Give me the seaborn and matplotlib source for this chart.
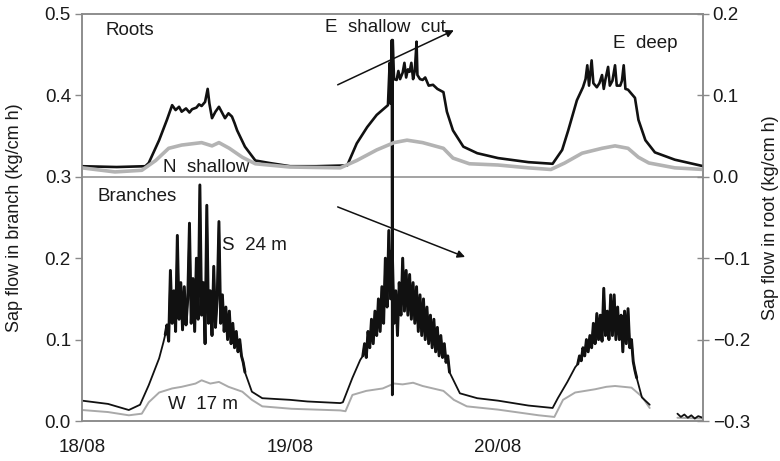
import numpy as np
import pandas as pd
import matplotlib
matplotlib.use("Agg")
import matplotlib.pyplot as plt
import seaborn as sns

# ---------------- data (x = hours since 18/08 00:00) ----------------
DATE_LABELS = ["18/08", "19/08", "20/08"]
DATE_HOURS = [0, 24, 48]
BRANCH_TICKS = [0.0, 0.1, 0.2, 0.3, 0.4, 0.5]
ROOT_TICKS = [-0.3, -0.2, -0.1, 0.0, 0.1, 0.2]
BURST_STEP = 0.2  # logging interval of the dense daytime records (h)

# Branch S 24 m (black) - smooth parts
S24_HOURS = [0, 3, 5.4, 6.7, 7.7, 8.9, 9.4,
             19.6, 20.8, 24, 26, 29.8, 30.1, 31.2, 32.1,
             43.6, 45.6, 48, 51.5, 54.3, 54.9, 56.0, 56.9,
             64.6, 65.5]
S24_VALUES = [0.025, 0.021, 0.0135, 0.02, 0.044, 0.077, 0.097,
              0.036, 0.028, 0.026, 0.024, 0.022, 0.023, 0.053, 0.075,
              0.034, 0.028, 0.025, 0.019, 0.016, 0.028, 0.048, 0.066,
              0.029, 0.02]
# Branch S 24 m - dense daytime records
S24_BURST1_START = 9.6
S24_BURST1 = [0.106, 0.118, 0.098, 0.185, 0.12, 0.16, 0.11, 0.228, 0.125, 0.17,
              0.112, 0.165, 0.118, 0.15, 0.243, 0.12, 0.175, 0.11, 0.2, 0.125,
              0.29, 0.13, 0.17, 0.095, 0.265, 0.12, 0.16, 0.105, 0.19, 0.115,
              0.15, 0.245, 0.12, 0.155, 0.11, 0.14, 0.1, 0.135, 0.095, 0.12,
              0.09, 0.11, 0.085, 0.1, 0.08, 0.072, 0.06]
S24_BURST2_START = 32.4
S24_BURST2 = [0.08, 0.095, 0.078, 0.11, 0.09, 0.125, 0.095, 0.135, 0.105, 0.15,
              0.11, 0.165, 0.12, 0.2, 0.14, 0.234, 0.15, 0.21, 0.12, 0.16,
              0.105, 0.17, 0.13, 0.2, 0.135, 0.185, 0.13, 0.18, 0.125, 0.17,
              0.12, 0.165, 0.11, 0.155, 0.105, 0.15, 0.1, 0.14, 0.095, 0.13,
              0.09, 0.125, 0.085, 0.115, 0.08, 0.105, 0.078, 0.095, 0.072, 0.08,
              0.06]
S24_BURST3_START = 57.2
S24_BURST3 = [0.07, 0.08, 0.074, 0.09, 0.08, 0.1, 0.085, 0.105, 0.09, 0.12,
              0.095, 0.132, 0.1, 0.13, 0.098, 0.163, 0.105, 0.135, 0.1, 0.155,
              0.105, 0.155, 0.1, 0.14, 0.1, 0.13, 0.085, 0.135, 0.095, 0.138,
              0.09, 0.1, 0.073, 0.062, 0.053]
S24_TAIL_HOURS = [68.7, 69.1, 69.5, 69.9, 70.3, 70.7, 71.1, 71.6]
S24_TAIL_VALUES = [0.009, 0.005, 0.008, 0.004, 0.007, 0.003, 0.006, 0.004]

# Branch W 17 m (grey)
W17_HOURS = [0, 3, 5.4, 6.9, 7.7, 8.9, 10.4, 11.5, 12.3, 13.1, 13.8, 14.8, 15.8,
             16.9, 18.5, 19.6, 20.8, 24.2, 29.8, 30.4, 31.2, 32.8, 34.7, 36.0,
             37.0, 38.2, 39.3, 41.7, 42.9, 44.4, 48, 52.7, 54.5, 55.5, 56.9,
             59.2, 60.5, 61.5, 63.4, 64.6, 65.5]
W17_VALUES = [0.0135, 0.011, 0.007, 0.009, 0.023, 0.035, 0.04, 0.042, 0.044, 0.046,
              0.05, 0.046, 0.048, 0.042, 0.036, 0.026, 0.018, 0.015, 0.013, 0.012,
              0.032, 0.037, 0.04, 0.046, 0.045, 0.047, 0.043, 0.037, 0.026, 0.018,
              0.014, 0.007, 0.005, 0.026, 0.035, 0.039, 0.042, 0.043, 0.041, 0.03,
              0.016]
W17_TAIL_HOURS = [68.7, 71.7]
W17_TAIL_VALUES = [0.004, 0.003]

# Root E deep (black), right axis
EDEEP_HOURS = [0, 4, 7.3, 7.7, 8.9, 9.8, 10.4, 10.8, 11.2, 11.5, 12, 12.4, 12.7,
               13.2, 13.5, 13.8, 14.2, 14.5, 14.7, 15, 15.4, 15.8, 16.1, 16.5,
               16.9, 17.3, 17.6, 17.9, 18.8, 20, 21.6, 24,
               27, 30.6, 31.7, 32.9, 34, 35.3, 35.5, 35.6, 35.75, 35.8, 35.85,
               36, 36.3, 36.5, 36.7, 37, 37.2, 37.4, 37.6, 37.8, 38, 38.2, 38.4,
               38.6, 38.7, 39, 39.3, 39.6, 40, 40.5, 41, 41.7, 42.1, 42.8, 44,
               45.6, 48,
               51.5, 54.3, 55.4, 56.1, 57.1, 57.8, 58.1, 58.3, 58.5, 58.8, 59,
               59.4, 59.7, 60, 60.2, 60.4, 60.7, 60.9, 61.2, 61.5, 61.7, 62.1,
               62.3, 62.5, 62.7, 63, 63.4, 63.8, 64.2, 65, 66.1, 68.4, 71.7]
EDEEP_VALUES = [0.013, 0.012, 0.013, 0.017, 0.045, 0.07, 0.088, 0.082, 0.086, 0.08,
                0.084, 0.079, 0.083, 0.085, 0.089, 0.087, 0.092, 0.108, 0.09, 0.072,
                0.08, 0.086, 0.08, 0.072, 0.078, 0.074, 0.066, 0.057, 0.037, 0.02,
                0.017, 0.013,
                0.013, 0.014, 0.041, 0.061, 0.076, 0.088, 0.14, 0.09, 0.168, -0.268,
                0.168,
                0.12, 0.119, 0.13, 0.12, 0.128, 0.14, 0.122, 0.132, 0.129, 0.14,
                0.12, 0.13, 0.166, 0.125, 0.12, 0.119, 0.122, 0.112, 0.113, 0.108,
                0.104, 0.08, 0.057, 0.037, 0.029, 0.023,
                0.018, 0.016, 0.033, 0.057, 0.094, 0.11, 0.12, 0.137, 0.112, 0.143,
                0.115, 0.11, 0.115, 0.125, 0.108, 0.12, 0.135, 0.112, 0.118, 0.137,
                0.112, 0.112, 0.118, 0.137, 0.108, 0.107, 0.102, 0.097, 0.07,
                0.045, 0.03, 0.021, 0.013]

# Root N shallow (grey), right axis
NSHAL_HOURS = [0, 3.8, 6.9, 8.5, 10, 11.5, 13.8, 15, 15.8, 17, 18.5, 20, 24,
               29.8, 31.7, 34, 36, 37.5, 39.3, 41.7, 42.8, 44.7, 48,
               51.5, 54.1, 55.7, 57.7, 60, 61.5, 63, 64.2, 65.4, 68.4, 71.7]
NSHAL_VALUES = [0.011, 0.006, 0.008, 0.02, 0.035, 0.039, 0.042, 0.038, 0.042,
                0.035, 0.024, 0.016, 0.012,
                0.011, 0.02, 0.033, 0.042, 0.045, 0.042, 0.035, 0.023, 0.016,
                0.0145,
                0.011, 0.009, 0.017, 0.029, 0.035, 0.038, 0.035, 0.024, 0.017,
                0.011, 0.009]


def frame(hours, values, name, segment):
    return pd.DataFrame({"hour": hours, "value": values,
                         "series": name, "segment": segment})


# assemble S 24 m (smooth + dense parts sorted by time)
s_h = list(S24_HOURS)
s_v = list(S24_VALUES)
burst_frames = []
for k, (start, vals) in enumerate([(S24_BURST1_START, S24_BURST1),
                                   (S24_BURST2_START, S24_BURST2),
                                   (S24_BURST3_START, S24_BURST3)]):
    hrs = [start + BURST_STEP * i for i in range(len(vals))]
    s_h += hrs
    s_v += vals
    burst_frames.append(frame(hrs, vals, "S 24 m burst", 10 + k))
order = np.argsort(s_h, kind="stable")
s_h = np.asarray(s_h)[order]
s_v = np.asarray(s_v)[order]

branch = pd.concat([
    frame(s_h, s_v, "S 24 m", 0),
    frame(S24_TAIL_HOURS, S24_TAIL_VALUES, "S 24 m", 1),
    frame(W17_HOURS, W17_VALUES, "W 17 m", 2),
    frame(W17_TAIL_HOURS, W17_TAIL_VALUES, "W 17 m", 3),
] + burst_frames)
root = pd.concat([
    frame(EDEEP_HOURS, EDEEP_VALUES, "E deep", 0),
    frame(NSHAL_HOURS, NSHAL_VALUES, "N shallow", 1),
])

# ---------------- plotting ----------------
sns.set_style("white")
plt.rcParams["font.family"] = ["Liberation Sans", "DejaVu Sans"]
TXT = "#1a1a1a"
GRID = "#8a8a8a"
FS = 13.5

fig = plt.figure(figsize=(7.8, 4.61), dpi=100)
ax = fig.add_axes([82 / 780, 1 - 421 / 461, 621 / 780, 407 / 461])
ax2 = ax.twinx()

sns.lineplot(data=branch[branch.series == "W 17 m"], x="hour", y="value",
             units="segment", estimator=None, sort=False, color="#a9a9a9",
             lw=1.4, ax=ax, legend=False)
sns.lineplot(data=branch[branch.series == "S 24 m"], x="hour", y="value",
             units="segment", estimator=None, sort=False, color="#111111",
             lw=1.3, ax=ax, legend=False)
sns.lineplot(data=branch[branch.series == "S 24 m burst"], x="hour", y="value",
             units="segment", estimator=None, sort=False, color="#111111",
             lw=2.1, ax=ax, legend=False)
sns.lineplot(data=root[root.series == "E deep"], x="hour", y="value",
             units="segment", estimator=None, sort=False, color="#111111",
             lw=1.9, ax=ax2, legend=False)
sns.lineplot(data=root[root.series == "N shallow"], x="hour", y="value",
             units="segment", estimator=None, sort=False, color="#b3b3b3",
             lw=2.6, ax=ax2, legend=False)

ax.set_xlim(0, 71.65)
ax.set_ylim(0, 0.5)
ax2.set_ylim(-0.3, 0.2)
ax.axhline(0.3, color=GRID, lw=1.1, zorder=0)

ax.set_xticks(DATE_HOURS)
ax.set_xticklabels(DATE_LABELS)
ax.set_yticks(BRANCH_TICKS)
ax.set_yticklabels([f"{t:.1f}" for t in BRANCH_TICKS])
ax2.set_yticks(ROOT_TICKS)
ax2.set_yticklabels([f"{t:.1f}".replace("-", "\u2212") for t in ROOT_TICKS])

for a in (ax, ax2):
    for sp in a.spines.values():
        sp.set_color(GRID)
        sp.set_linewidth(1.1)
ax.tick_params(axis="both", direction="out", length=5, width=1, color=GRID,
               labelsize=FS, labelcolor=TXT, pad=3)
ax.tick_params(axis="x", pad=8)
ax2.tick_params(axis="y", direction="inout", length=8, width=1, color=GRID,
                labelsize=FS, labelcolor=TXT, pad=3)

ax.set_xlabel("")
ax.set_ylabel("Sap flow in branch (kg/cm h)", fontsize=13, color=TXT,
              va="center")
ax2.set_ylabel("Sap flow in root (kg/cm h)", fontsize=13, color=TXT,
               rotation=90, va="center")
ax.yaxis.set_label_coords(-0.108, 0.5)
ax2.yaxis.set_label_coords(1.108, 0.5)

kw = dict(fontsize=FS, color=TXT, ha="center", va="center")
ax.text(5.5, 0.480, "Roots", **kw)
ax.text(14.3, 0.312, "N  shallow", **kw)
ax.text(35.0, 0.484, "E  shallow  cut", **kw)
ax.text(65.0, 0.464, "E  deep", **kw)
ax.text(6.35, 0.276, "Branches", **kw)
ax.text(19.85, 0.215, "S  24 m", **kw)
ax.text(13.96, 0.0197, "W  17 m", **kw)

arrow = dict(arrowstyle="-|>", color="#111111", lw=1.1, mutation_scale=11,
             shrinkA=0, shrinkB=0)
ax.annotate("", xy=(42.9, 0.480), xytext=(29.5, 0.413), arrowprops=arrow)
ax.annotate("", xy=(44.2, 0.2015), xytext=(29.5, 0.263), arrowprops=arrow)

fig.savefig("out.png", dpi=100)
